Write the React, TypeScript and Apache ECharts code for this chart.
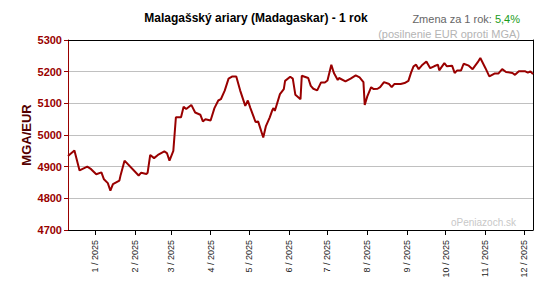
import React, { useEffect, useRef } from "react";
import * as echarts from "echarts";

const TITLE = "Malagašský ariary (Madagaskar) - 1 rok";
const CHANGE_LABEL = "Zmena za 1 rok: ";
const CHANGE_VALUE = "5,4%";
const SUBTITLE = "(posilnenie EUR oproti MGA)";
const Y_NAME = "MGA/EUR";
const WATERMARK = "oPeniazoch.sk";

const X_MIN = "2024-12-11";
const X_MAX = "2025-12-08";
const Y_MIN = 4700;
const Y_MAX = 5300;
const Y_STEP = 100;

const dates: string[] = [
  "2024-12-11", "2024-12-16", "2024-12-20", "2024-12-26", "2024-12-29",
  "2025-01-02", "2025-01-06", "2025-01-08", "2025-01-11", "2025-01-13", "2025-01-15", "2025-01-20", "2025-01-21", "2025-01-24",
  "2025-02-04", "2025-02-06", "2025-02-10", "2025-02-11", "2025-02-13", "2025-02-16", "2025-02-19", "2025-02-24", "2025-02-26", "2025-02-28",
  "2025-03-03", "2025-03-05", "2025-03-09", "2025-03-11", "2025-03-13", "2025-03-17", "2025-03-20", "2025-03-24", "2025-03-26", "2025-03-28",
  "2025-04-01", "2025-04-04", "2025-04-07", "2025-04-09", "2025-04-12", "2025-04-15", "2025-04-18", "2025-04-21", "2025-04-24", "2025-04-28", "2025-04-30",
  "2025-05-02", "2025-05-06", "2025-05-08", "2025-05-12", "2025-05-14", "2025-05-17", "2025-05-19", "2025-05-20", "2025-05-21", "2025-05-25", "2025-05-28", "2025-05-29",
  "2025-06-02", "2025-06-04", "2025-06-06", "2025-06-10", "2025-06-11", "2025-06-16", "2025-06-18", "2025-06-20", "2025-06-23", "2025-06-26", "2025-06-29",
  "2025-07-01", "2025-07-04", "2025-07-06", "2025-07-09", "2025-07-10", "2025-07-15", "2025-07-19", "2025-07-23", "2025-07-26", "2025-07-29", "2025-07-30",
  "2025-08-01", "2025-08-04", "2025-08-06", "2025-08-09", "2025-08-11", "2025-08-14", "2025-08-18", "2025-08-20", "2025-08-22", "2025-08-27", "2025-08-30",
  "2025-09-02", "2025-09-04", "2025-09-06", "2025-09-08", "2025-09-10", "2025-09-13", "2025-09-16", "2025-09-19", "2025-09-22", "2025-09-25", "2025-09-26", "2025-09-30",
  "2025-10-02", "2025-10-06", "2025-10-08", "2025-10-10", "2025-10-13", "2025-10-15", "2025-10-19", "2025-10-22", "2025-10-26", "2025-10-28",
  "2025-11-01", "2025-11-04", "2025-11-08", "2025-11-11", "2025-11-14", "2025-11-17", "2025-11-22", "2025-11-24", "2025-11-27",
  "2025-12-02", "2025-12-04", "2025-12-06", "2025-12-08",
];

const rates: number[] = [
  4934, 4951, 4888, 4900, 4892,
  4876, 4882, 4860, 4848, 4824, 4845, 4856, 4874, 4919,
  4872, 4881, 4877, 4881, 4937, 4927, 4937, 4948, 4943, 4919,
  4950, 5056, 5056, 5089, 5082, 5095, 5071, 5064, 5043, 5050,
  5046, 5085, 5109, 5113, 5140, 5178, 5185, 5185, 5141, 5092, 5109,
  5085, 5041, 5043, 4992, 5027, 5055, 5078, 5085, 5076, 5129, 5145, 5171,
  5184, 5178, 5127, 5113, 5187, 5180, 5155, 5146, 5141, 5166, 5166,
  5172, 5222, 5196, 5174, 5180, 5169, 5178, 5188, 5182, 5167, 5095,
  5122, 5151, 5145, 5146, 5151, 5167, 5161, 5151, 5161, 5161, 5164,
  5171, 5196, 5217, 5222, 5208, 5222, 5232, 5211, 5217, 5222, 5204, 5227,
  5217, 5219, 5196, 5204, 5204, 5225, 5219, 5208, 5230, 5243,
  5211, 5185, 5194, 5194, 5208, 5199, 5196, 5190, 5201,
  5201, 5197, 5201, 5192,
];

const FONT = 'Arial, "Liberation Sans", sans-serif';
const RED = "#990000";

function toTime(s: string): number {
  const [y, m, d] = s.split("-").map(Number);
  return new Date(y, m - 1, d).getTime();
}

export default function App() {
  const ref = useRef<HTMLDivElement>(null);

  useEffect(() => {
    if (!ref.current) return;
    const chart = echarts.init(ref.current, undefined, { renderer: "svg" });
    const data = dates.map((d, i) => [toTime(d), rates[i]]);
    const xMin = toTime(X_MIN);
    const xMax = toTime(X_MAX);

    chart.setOption({
      animation: false,
      backgroundColor: "#ffffff",
      grid: { left: 68, right: 26, top: 40, bottom: 54, containLabel: false },
      xAxis: [
        {
          type: "time",
          min: xMin,
          max: xMax,
          splitNumber: 12,
          axisLine: { show: true, lineStyle: { color: "#000", width: 1 } },
          axisTick: { show: true, length: 5, lineStyle: { color: "#000" } },
          splitLine: { show: false },
          axisLabel: {
            rotate: 90,
            margin: 10,
            fontSize: 9,
            fontFamily: FONT,
            color: "#222",
            hideOverlap: false,
            showMinLabel: false,
            showMaxLabel: false,
            formatter: (v: number) => {
              const d = new Date(v);
              return `${d.getMonth() + 1} / ${d.getFullYear()}`;
            },
          },
        },
        {
          type: "time",
          position: "top",
          min: xMin,
          max: xMax,
          axisLine: { show: true, onZero: false, lineStyle: { color: "#000", width: 1 } },
          axisTick: { show: false },
          axisLabel: { show: false },
          splitLine: { show: false },
        },
      ],
      yAxis: [
        {
          type: "value",
          min: Y_MIN,
          max: Y_MAX,
          interval: Y_STEP,
          axisLine: { show: true, lineStyle: { color: RED, width: 1 } },
          axisTick: { show: true, length: 4, lineStyle: { color: RED } },
          splitLine: {
            show: true,
            showMinLine: false,
            showMaxLine: false,
            lineStyle: { color: "#c0c0c0", width: 1 },
          },
          axisLabel: {
            margin: 6,
            fontSize: 11,
            fontWeight: "bold",
            fontFamily: FONT,
            color: RED,
            formatter: (v: number) => String(v),
          },
        },
        {
          type: "value",
          position: "right",
          min: Y_MIN,
          max: Y_MAX,
          interval: Y_STEP,
          axisLine: { show: true, onZero: false, lineStyle: { color: "#000", width: 1 } },
          axisTick: { show: false },
          axisLabel: { show: false },
          splitLine: { show: false },
        },
      ],
      series: [
        {
          type: "line",
          xAxisIndex: 0,
          yAxisIndex: 0,
          data,
          showSymbol: false,
          symbol: "none",
          lineStyle: { color: RED, width: 2 },
          z: 5,
        },
      ],
      graphic: [
        {
          type: "text",
          x: 256,
          y: 18,
          style: {
            text: TITLE,
            fill: "#000",
            fontSize: 12,
            fontWeight: "bold",
            fontFamily: FONT,
            align: "center",
            verticalAlign: "middle",
          },
        },
        {
          type: "text",
          x: 520,
          y: 19,
          style: {
            text: `{a|${CHANGE_LABEL}}{b|${CHANGE_VALUE}}`,
            align: "right",
            verticalAlign: "middle",
            fontSize: 11,
            fontFamily: FONT,
            rich: {
              a: { fill: "#666", fontSize: 11, fontFamily: FONT },
              b: { fill: "#1a9c1a", fontSize: 11, fontFamily: FONT },
            },
          },
        },
        {
          type: "text",
          x: 520,
          y: 34,
          style: {
            text: SUBTITLE,
            fill: "#b4b4b4",
            fontSize: 11,
            fontFamily: FONT,
            align: "right",
            verticalAlign: "middle",
          },
        },
        {
          type: "text",
          x: 26,
          y: 135,
          rotation: Math.PI / 2,
          style: {
            text: Y_NAME,
            fill: "#550000",
            fontSize: 13,
            fontWeight: "bold",
            fontFamily: FONT,
            align: "center",
            verticalAlign: "middle",
          },
        },
        {
          type: "text",
          x: 516,
          y: 222,
          z: 10,
          style: {
            text: WATERMARK,
            fill: "#c8c8c8",
            fontSize: 10,
            fontFamily: FONT,
            align: "right",
            verticalAlign: "middle",
          },
        },
      ],
    });

    return () => {
      chart.dispose();
    };
  }, []);

  return (
    <div
      ref={ref}
      style={{ position: "fixed", left: 0, top: 0, width: 559, height: 284, background: "#fff" }}
    />
  );
}
